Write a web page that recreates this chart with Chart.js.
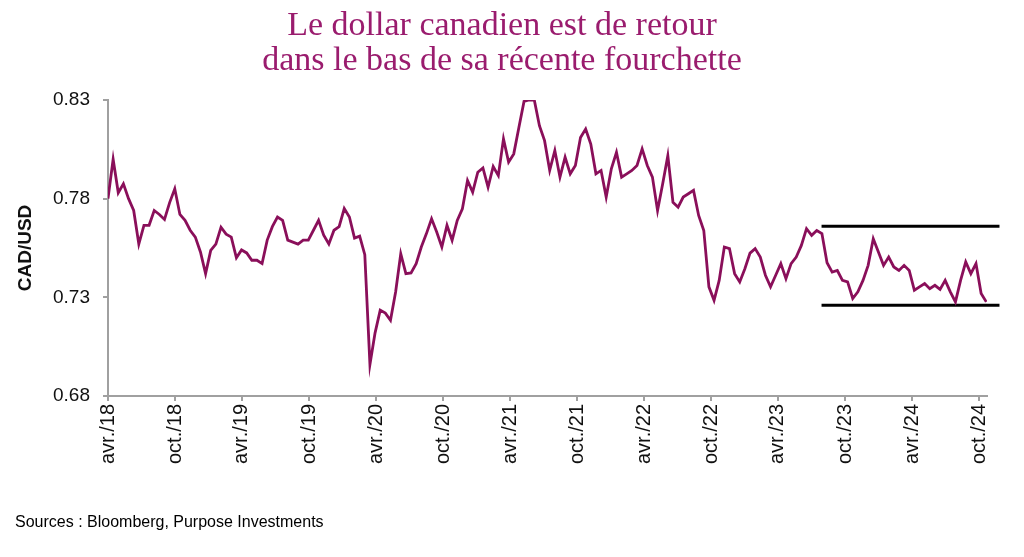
<!DOCTYPE html>
<html>
<head>
<meta charset="utf-8">
<script src="https://cdn.jsdelivr.net/npm/chart.js@4.4.0/dist/chart.umd.min.js"></script>
<style>
  html, body { margin: 0; padding: 0; background: #fff; }
  #page { position: relative; width: 1024px; height: 557px; overflow: hidden; }
  #titre {
    position: absolute; left: 0; top: 6px; width: 1004px; text-align: center;
    font-family: "Liberation Serif", serif; font-size: 34px; line-height: 35px;
    color: #9a1c6e;
  }
  #sources {
    position: absolute; left: 15px; top: 513px;
    font-family: "Liberation Sans", Arial, sans-serif; font-size: 16px; color: #000;
  }
  #zone { position: absolute; left: 0; top: 0; width: 1024px; height: 557px; }
</style>
</head>
<body>
<div id="page">
  <div id="zone"><canvas id="graphique"></canvas></div>
  <div id="titre">Le dollar canadien est de retour<br>dans le bas de sa récente fourchette</div>
  <div id="sources">Sources : Bloomberg, Purpose Investments</div>
</div>
<script>
// Série CAD/USD, un point toutes les deux semaines à partir du 1er avril 2018
const debutSerie = '2018-04-01';
const pasJours = 14;
const cadUsd = [
  0.780, 0.800, 0.783, 0.7875, 0.780, 0.774, 0.757, 0.7665, 0.7665, 0.774,
  0.772, 0.7695, 0.778, 0.785, 0.772, 0.769, 0.764, 0.7605, 0.753, 0.742,
  0.7538, 0.757, 0.7655, 0.762, 0.7605, 0.750, 0.754, 0.7525, 0.7488, 0.7488,
  0.7471, 0.759, 0.7658, 0.7707, 0.769, 0.759, 0.758, 0.757, 0.759, 0.759,
  0.764, 0.769, 0.7615, 0.757, 0.764, 0.7658, 0.775, 0.7707, 0.760, 0.761,
  0.7516, 0.696, 0.712, 0.7235, 0.722, 0.7184, 0.7327, 0.7521, 0.742, 0.7424,
  0.7471, 0.7555, 0.7623, 0.7698, 0.7631, 0.7555, 0.7665, 0.7589, 0.769, 0.7749,
  0.7892, 0.7833, 0.7934, 0.7956, 0.7858, 0.7963, 0.7917, 0.8103, 0.7985, 0.8027,
  0.8161, 0.8293, 0.830, 0.830, 0.817, 0.8094, 0.7943, 0.8044, 0.7909, 0.801,
  0.7926, 0.7968, 0.811, 0.8153, 0.8077, 0.7926, 0.7943, 0.7808, 0.7951, 0.8035,
  0.7909, 0.7926, 0.7943, 0.7968, 0.8052, 0.7968, 0.7909, 0.774, 0.7876, 0.8018,
  0.7782, 0.7757, 0.7808, 0.7825, 0.7842, 0.7715, 0.7639, 0.7353, 0.7285, 0.7386,
  0.7555, 0.7547, 0.742, 0.7378, 0.7445, 0.7524, 0.7547, 0.7504, 0.7412, 0.7353,
  0.7412, 0.7471, 0.7395, 0.7471, 0.7504, 0.7563, 0.7648, 0.7614, 0.7639, 0.7623,
  0.7475, 0.7428, 0.7436, 0.7386, 0.7378, 0.7294, 0.7328, 0.7386, 0.7462, 0.7597,
  0.7530, 0.7462, 0.7504, 0.7454, 0.7436, 0.7462, 0.7436, 0.7336, 0.7353, 0.737,
  0.7344, 0.7361, 0.734, 0.7386, 0.7328, 0.7277, 0.7386, 0.7479, 0.742, 0.7471,
  0.7319, 0.7277
];

// Axe des x
const datesTicks = ['2018-04-01', '2018-10-01', '2019-04-01', '2019-10-01', '2020-04-01', '2020-10-01',
  '2021-04-01', '2021-10-01', '2022-04-01', '2022-10-01', '2023-04-01', '2023-10-01',
  '2024-04-01', '2024-10-01'];
const etiquettesTicks = ['avr./18', 'oct./18', 'avr./19', 'oct./19', 'avr./20', 'oct./20',
  'avr./21', 'oct./21', 'avr./22', 'oct./22', 'avr./23', 'oct./23', 'avr./24', 'oct./24'];
const debutAxe = '2018-04-01';
const finAxe = '2024-10-22';

// Fourchette récente (lignes noires)
const fourchetteDates = ['2023-07-29', '2024-11-25'];
const fourchetteHaut = [0.766, 0.766];
const fourchetteBas = [0.726, 0.726];

// Axe des y
const yMin = 0.68, yMax = 0.83, yPas = 0.05;

const jour = 86400000;
const t = (s) => Date.parse(s + 'T00:00:00Z');
const t0 = t(debutSerie);
const points = cadUsd.map((v, i) => ({ x: t0 + i * pasJours * jour, y: v }));

const police = '"Liberation Sans", Arial, sans-serif';

new Chart(document.getElementById('graphique'), {
  type: 'line',
  data: {
    datasets: [
      {
        data: points,
        borderColor: '#8a0f5a',
        borderWidth: 2.8,
        pointRadius: 0,
        tension: 0
      },
      {
        data: fourchetteDates.map((d, i) => ({ x: t(d), y: fourchetteHaut[i] })),
        borderColor: '#000',
        borderWidth: 3,
        pointRadius: 0,
        clip: false
      },
      {
        data: fourchetteDates.map((d, i) => ({ x: t(d), y: fourchetteBas[i] })),
        borderColor: '#000',
        borderWidth: 3,
        pointRadius: 0,
        clip: false
      }
    ]
  },
  options: {
    responsive: true,
    maintainAspectRatio: false,
    animation: false,
    layout: { padding: { left: 14, right: 37, top: 100, bottom: 0 } },
    plugins: { legend: { display: false }, tooltip: { enabled: false } },
    scales: {
      x: {
        type: 'linear',
        min: t(debutAxe),
        max: t(finAxe),
        afterFit: (s) => { s.height = 161; },
        afterBuildTicks: (s) => { s.ticks = datesTicks.map(d => ({ value: t(d) })); },
        border: { color: '#a0a0a0', width: 2 },
        grid: { display: true, drawOnChartArea: false, drawTicks: true, tickLength: 5, color: '#a0a0a0', lineWidth: 2 },
        ticks: {
          autoSkip: false,
          minRotation: 90,
          maxRotation: 90,
          padding: 3,
          color: '#111',
          font: { family: police, size: 20 },
          callback: (v, i) => etiquettesTicks[i]
        }
      },
      y: {
        min: yMin,
        max: yMax,
        afterFit: (s) => { s.width = 94; },
        border: { color: '#a0a0a0', width: 2 },
        grid: { display: true, drawOnChartArea: false, drawTicks: true, tickLength: 5, color: '#a0a0a0', lineWidth: 2 },
        ticks: {
          stepSize: yPas,
          padding: 13,
          color: '#111',
          font: { family: police, size: 19 },
          callback: (v) => v.toFixed(2)
        },
        title: {
          display: true,
          text: 'CAD/USD',
          color: '#111',
          padding: { top: 0, bottom: 0 },
          font: { family: police, size: 19, weight: 'bold' }
        }
      }
    }
  }
});
</script>
</body>
</html>
